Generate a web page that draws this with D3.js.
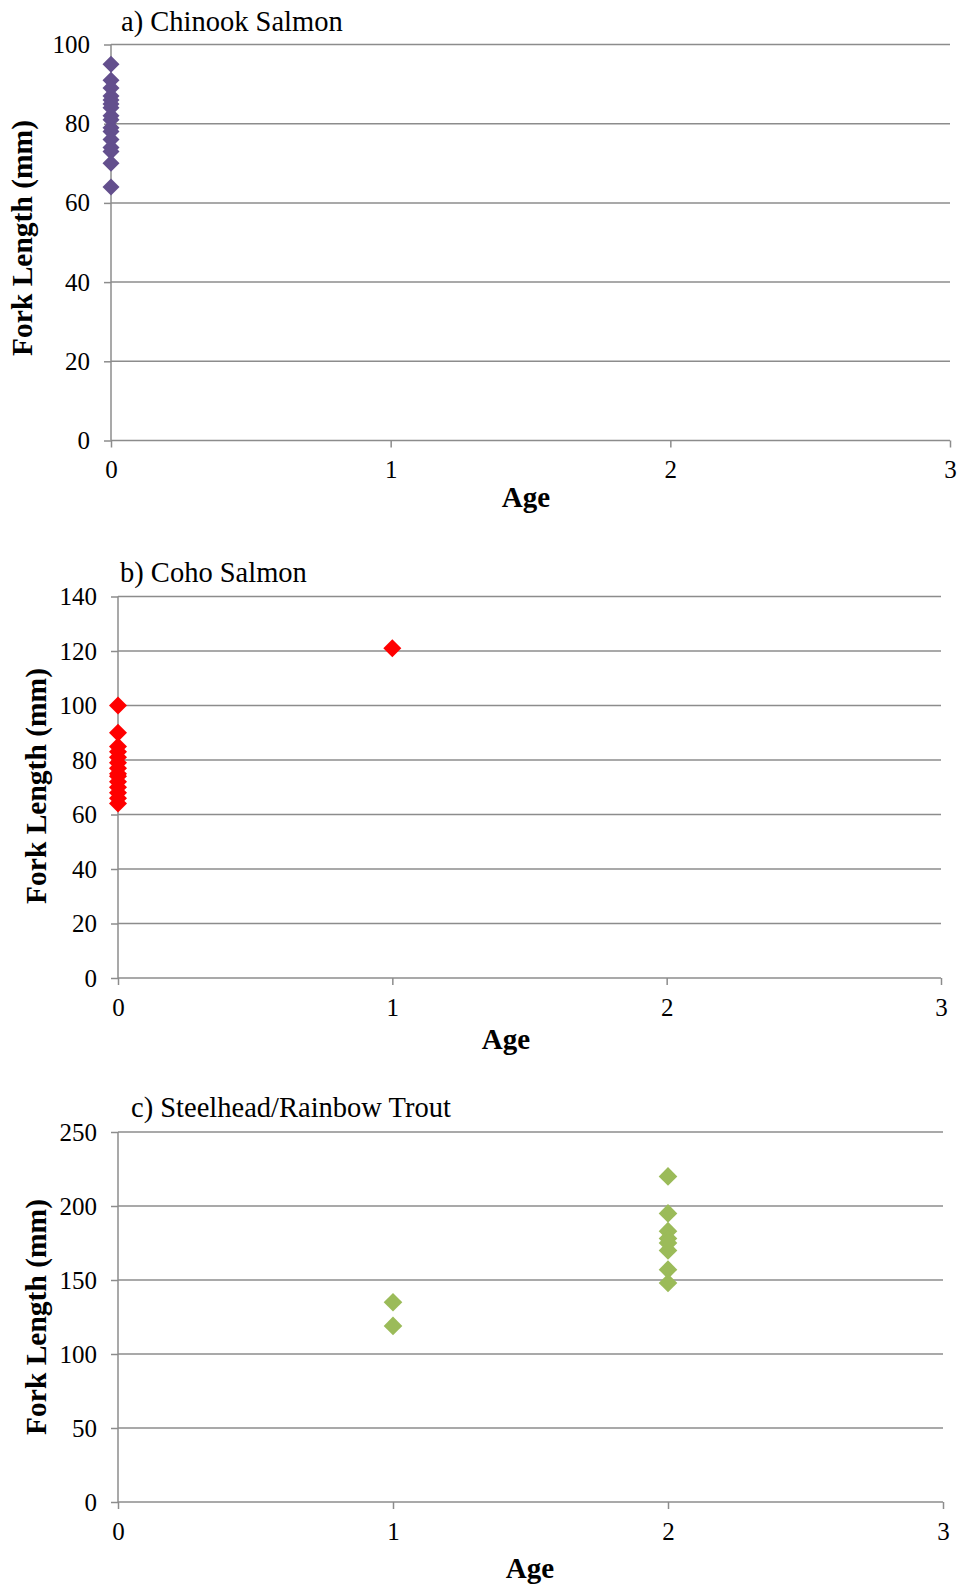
<!DOCTYPE html>
<html>
<head>
<meta charset="utf-8">
<script src="https://cdn.jsdelivr.net/npm/d3@7"></script>
<style>
body { margin: 0; background: #fff; }
svg text { font-family: "Liberation Serif", "DejaVu Serif", serif; fill: #000; }
</style>
</head>
<body>
<svg width="961" height="1585"></svg>
<script>
var svg = d3.select('svg')

// Fork length (mm) by age
var chinookAge = [0, 0, 0, 0, 0, 0, 0, 0, 0, 0, 0, 0, 0, 0, 0, 0]
var chinookLength = [95, 91, 89, 87, 86, 85, 84, 82, 81, 79, 78, 76, 74, 73, 70, 64]

var cohoAge = [0, 0, 0, 0, 0, 0, 0, 0, 0, 0, 0, 0, 0, 0, 1]
var cohoLength = [100, 90, 85, 83, 81, 79, 77, 75, 74, 72, 70, 68, 66, 64, 121]

var steelheadAge = [1, 1, 2, 2, 2, 2, 2, 2, 2, 2]
var steelheadLength = [135, 119, 220, 195, 183, 178, 175, 170, 157, 148]

var ageTicks = [0, 1, 2, 3]
var chinookTicks = [0, 20, 40, 60, 80, 100]
var cohoTicks = [0, 20, 40, 60, 80, 100, 120, 140]
var steelheadTicks = [0, 50, 100, 150, 200, 250]

var titles = ["a) Chinook Salmon", "b) Coho Salmon", "c) Steelhead/Rainbow Trout"]

var panels = [
	{title: titles[0], ages: chinookAge, lengths: chinookLength, yTicks: chinookTicks, color: "#634f8d",
		left: 111, right: 950, top: 44.5, bottom: 440.5, titleX: 121, titleY: 31, ageX: 526, ageDy: 66, ylabX: 32, ylabY: 238, size: 8.5},
	{title: titles[1], ages: cohoAge, lengths: cohoLength, yTicks: cohoTicks, color: "#ff0000",
		left: 118, right: 941, top: 596.5, bottom: 978, titleX: 120, titleY: 582, ageX: 506, ageDy: 71, ylabX: 46, ylabY: 786, size: 9},
	{title: titles[2], ages: steelheadAge, lengths: steelheadLength, yTicks: steelheadTicks, color: "#9bbb59",
		left: 118, right: 943, top: 1132, bottom: 1502, titleX: 131, titleY: 1117, ageX: 530, ageDy: 76, ylabX: 46, ylabY: 1317, size: 9.3}
]

var gridColor = "#8c8c8c"
var serif = '"Liberation Serif", "DejaVu Serif", serif'

panels.forEach(drawPanel)

function drawPanel(p) {
	var x = d3.scaleLinear().domain([0, 3]).range([p.left, p.right])
	var yMax = p.yTicks[p.yTicks.length - 1]
	var y = d3.scaleLinear().domain([0, yMax]).range([p.bottom, p.top])
	var g = svg.append('g')

	// horizontal gridlines
	g.selectAll('line.grid')
		.data(p.yTicks.filter(function(t) { return t > 0 }))
		.enter()
		.append('line')
		.attr('x1', p.left)
		.attr('x2', p.right)
		.attr('y1', function(d) { return y(d) })
		.attr('y2', function(d) { return y(d) })
		.attr('stroke', gridColor)
		.attr('stroke-width', 1.5)

	// y axis
	var yAxis = g.append('g')
		.attr('transform', 'translate(' + p.left + ',0)')
		.call(d3.axisLeft(y).tickValues(p.yTicks).tickFormat(d3.format('d')).tickSize(7).tickPadding(14))
	// x axis
	var xAxis = g.append('g')
		.attr('transform', 'translate(0,' + p.bottom + ')')
		.call(d3.axisBottom(x).tickValues(ageTicks).tickFormat(d3.format('d')).tickSize(7).tickPadding(13))

	;[yAxis, xAxis].forEach(function(a) {
		a.attr('font-family', null).attr('font-size', null)
		a.select('.domain').attr('stroke', gridColor).attr('stroke-width', 1.5)
		a.selectAll('.tick line').attr('stroke', gridColor).attr('stroke-width', 1.5)
		a.selectAll('.tick text')
			.style('font-size', '25px')
			.style('font-family', serif)
			.attr('fill', '#000')
	})
	xAxis.select('.domain').attr('d', 'M' + p.left + ',0H' + p.right)
	yAxis.select('.domain').attr('d', 'M0,' + p.top + 'V' + p.bottom)

	// points
	var pts = p.ages.map(function(a, i) { return {age: a, len: p.lengths[i]} })
	g.selectAll('path.pt')
		.data(pts)
		.enter()
		.append('path')
		.attr('d', function(d) {
			var cx = x(d.age), cy = y(d.len), s = p.size
			return 'M' + cx + ',' + (cy - s) + 'L' + (cx + s) + ',' + cy + 'L' + cx + ',' + (cy + s) + 'L' + (cx - s) + ',' + cy + 'Z'
		})
		.attr('fill', p.color)

	// panel title
	g.append('text')
		.attr('x', p.titleX)
		.attr('y', p.titleY)
		.style('font-size', '28.5px')
		.text(p.title)

	// axis titles
	g.append('text')
		.attr('x', p.ageX)
		.attr('y', p.bottom + p.ageDy)
		.attr('text-anchor', 'middle')
		.style('font-size', '29px')
		.style('font-weight', 'bold')
		.text('Age')

	g.append('text')
		.attr('transform', 'translate(' + p.ylabX + ',' + p.ylabY + ') rotate(-90)')
		.attr('text-anchor', 'middle')
		.style('font-size', '29.5px')
		.style('font-weight', 'bold')
		.text('Fork Length (mm)')
}
</script>
</body>
</html>
